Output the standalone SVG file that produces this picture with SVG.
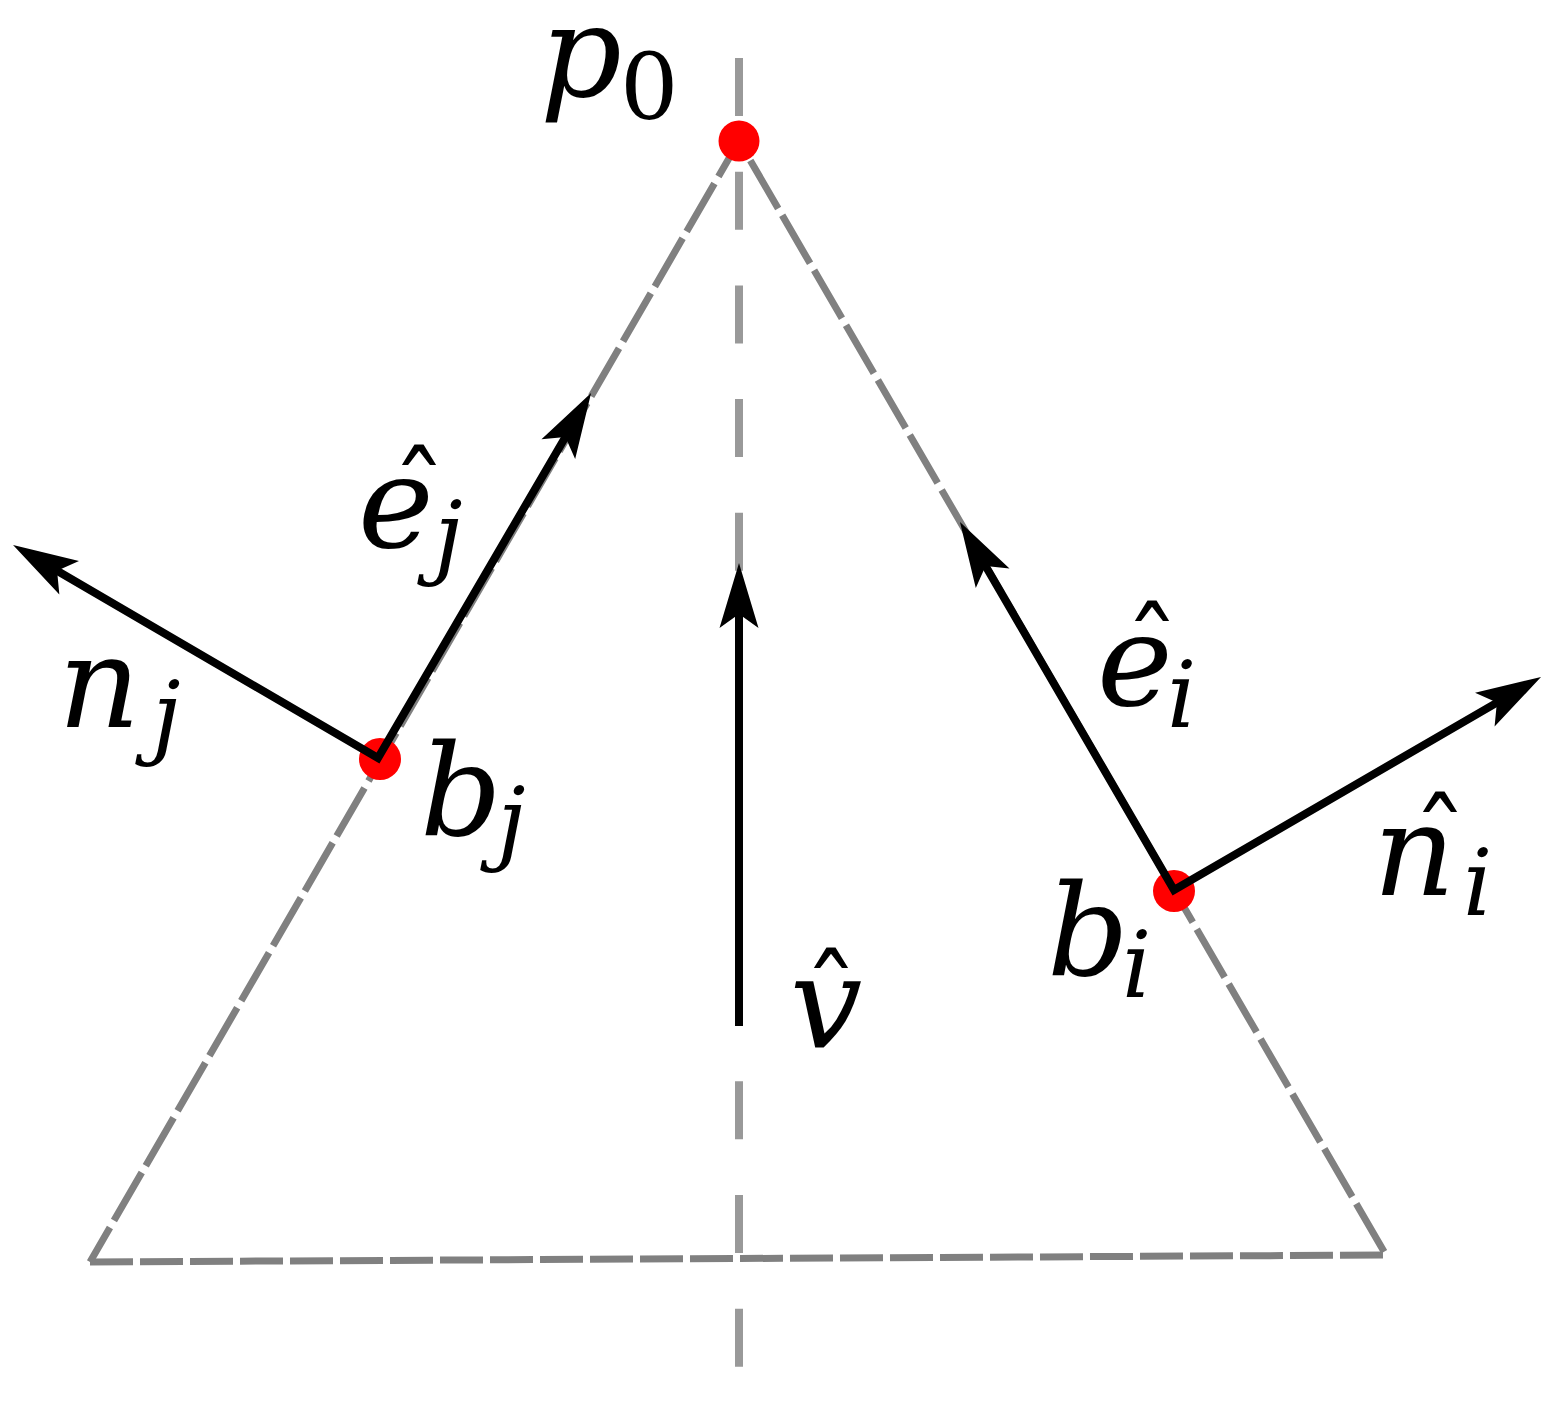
<svg xmlns="http://www.w3.org/2000/svg" width="1563" height="1412" viewBox="0 0 1563 1412">
<style>
.side{fill:none;stroke:#808080;stroke-width:7;stroke-dasharray:55.5 8}
.axis{fill:none;stroke:#999999;stroke-width:8;stroke-dasharray:58 55.7}
.vec{fill:none;stroke:#000;stroke-width:8;stroke-linejoin:miter}
.dot{fill:#ff0000}
.lbl{font-family:"DejaVu Serif","Liberation Serif",serif;font-style:italic;font-size:128px;fill:#000}
.sub{font-size:92px}
.up{font-style:normal}
.hat{font-style:normal;font-size:110px}
</style>
<defs>
<marker id="ah" markerUnits="userSpaceOnUse" markerWidth="72" markerHeight="44" viewBox="-20 -22 72 44" refX="0" refY="0" orient="auto-start-reverse">
<path d="M48,0 L-17,-19.5 L-3,0 L-17,19.5 Z" fill="#000"/>
</marker>
</defs>
<rect width="1563" height="1412" fill="#fff"/>
<g id="triangle">
<path class="axis" d="M739,58 L739,1369"/>
<path class="side" d="M739,141 L90,1262" stroke-dashoffset="14.5"/>
<path class="side" d="M739,141 L1386,1255" stroke-dashoffset="41"/>
<path class="side" d="M90,1262 L1388,1255" style="stroke-dasharray:43 7"/>
</g>
<g id="p0"><circle class="dot" cx="739" cy="141" r="20.5"/></g>
<g id="bj"><circle class="dot" cx="380" cy="759" r="21"/></g>
<g id="bi"><circle class="dot" cx="1174" cy="891" r="21"/></g>
<g id="connectors">
<path class="vec" d="M739,1026 L739,611" marker-end="url(#ah)"/>
<path class="vec" d="M54.5,569.2 L378,758 L566.9,434.5" marker-start="url(#ah)" marker-end="url(#ah)"/>
<path class="vec" d="M984.1,563.5 L1174,890 L1499.5,701.1" marker-start="url(#ah)" marker-end="url(#ah)"/>
</g>
<g id="labels">
<text id="label-p0" class="lbl"><tspan x="540" y="96">p</tspan><tspan class="sub up" x="620" y="119">0</tspan></text>
<text id="label-nj" class="lbl"><tspan x="58" y="727">n</tspan><tspan class="sub" x="152" y="747">j</tspan></text>
<text id="label-ej" class="lbl"><tspan x="358" y="547">e</tspan><tspan class="hat" x="419" y="533" text-anchor="middle">ˆ</tspan><tspan class="sub" x="434" y="567">j</tspan></text>
<text id="label-bj" class="lbl"><tspan x="420" y="835">b</tspan><tspan class="sub" x="497" y="853">j</tspan></text>
<text id="label-ei" class="lbl"><tspan x="1097" y="705">e</tspan><tspan class="hat" x="1152" y="689" text-anchor="middle">ˆ</tspan><tspan class="sub" x="1167" y="727">i</tspan></text>
<text id="label-ni" class="lbl"><tspan x="1373" y="895">n</tspan><tspan class="hat" x="1440" y="880" text-anchor="middle">ˆ</tspan><tspan class="sub" x="1463" y="915">i</tspan></text>
<text id="label-bi" class="lbl"><tspan x="1047" y="975">b</tspan><tspan class="sub" x="1122" y="997">i</tspan></text>
<text id="label-v" class="lbl"><tspan x="790" y="1048">v</tspan><tspan class="hat" x="831" y="1036" text-anchor="middle">ˆ</tspan></text>
</g>
</svg>
